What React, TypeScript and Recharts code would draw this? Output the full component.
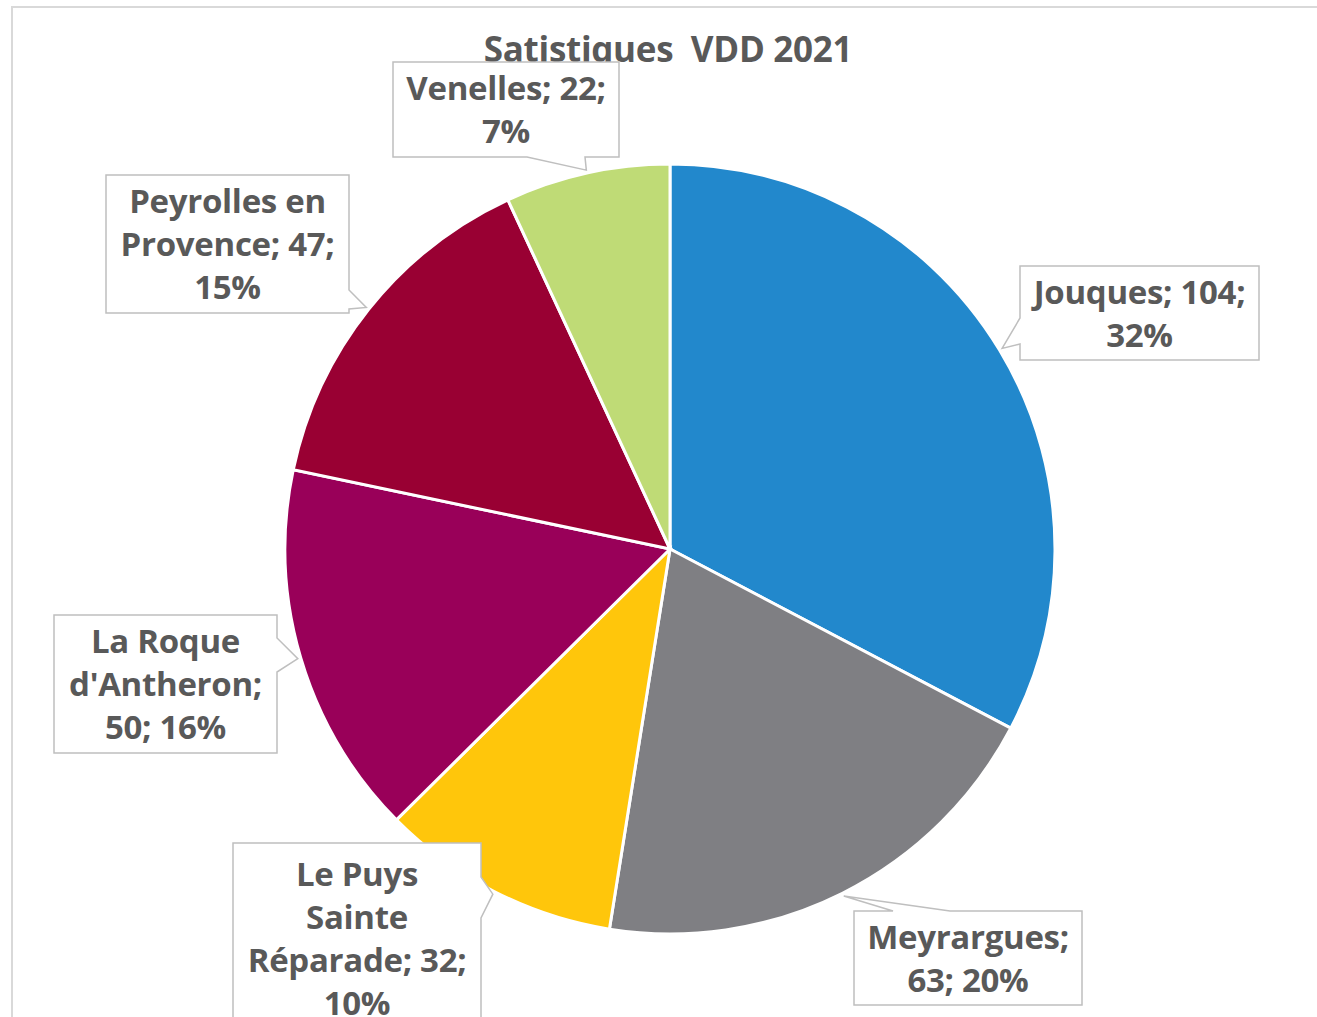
import React from 'react';
import { PieChart, Pie, Cell } from 'recharts';

const communes = ['Jouques', 'Meyrargues', 'Le Puys Sainte Réparade', "La Roque d'Antheron", 'Peyrolles en Provence', 'Venelles'];
const counts = [104, 63, 32, 50, 47, 22];
const percentLabels = ['32%', '20%', '10%', '16%', '15%', '7%'];
const labelLines = [
  ['Jouques; 104;', '32%'],
  ['Meyrargues;', '63; 20%'],
  ['Le Puys', 'Sainte', 'Réparade; 32;', '10%'],
  ['La Roque', "d'Antheron;", '50; 16%'],
  ['Peyrolles en', 'Provence; 47;', '15%'],
  ['Venelles; 22;', '7%'],
];
const colors = ['#2288CC', '#7F7F83', '#FFC60B', '#990059', '#990033', '#BFDB76'];
const title = 'Satistiques  VDD 2021';

// Callout box layout: x, y, w, h, side of pointer, base start/end along that side
const boxes = [
  { x: 1020, y: 266, w: 239, h: 94, side: 'left', a: 318, b: 344 },
  { x: 854, y: 911, w: 228, h: 94, side: 'top', a: 893, b: 950 },
  { x: 233, y: 843, w: 248, h: 190, side: 'right', a: 877, b: 918 },
  { x: 54, y: 615, w: 223, h: 138, side: 'right', a: 638, b: 672 },
  { x: 106, y: 175, w: 243, h: 138, side: 'right', a: 290, b: 309 },
  { x: 393, y: 62, w: 226, h: 95, side: 'bottom', a: 527, b: 585 },
];

const data = communes.map((name, i) => ({ name, value: counts[i], pct: percentLabels[i] }));

const RAD = Math.PI / 180;
const FONT = '"Open Sans", Lato, sans-serif';

function calloutPath(bx: any, tx: number, ty: number) {
  const { x, y, w, h, side, a, b } = bx;
  const r = x + w, btm = y + h;
  if (side === 'left') {
    return `M${x},${y} L${r},${y} L${r},${btm} L${x},${btm} L${x},${b} L${tx},${ty} L${x},${a} Z`;
  }
  if (side === 'right') {
    return `M${x},${y} L${r},${y} L${r},${a} L${tx},${ty} L${r},${b} L${r},${btm} L${x},${btm} Z`;
  }
  if (side === 'top') {
    return `M${x},${y} L${a},${y} L${tx},${ty} L${b},${y} L${r},${y} L${r},${btm} L${x},${btm} Z`;
  }
  return `M${x},${y} L${r},${y} L${r},${btm} L${b},${btm} L${tx},${ty} L${a},${btm} L${x},${btm} Z`;
}

const renderLabel = (props: any) => {
  const { cx, cy, midAngle, outerRadius, index } = props;
  const bx = boxes[index];
  const tr = outerRadius + 3;
  const tx = cx + tr * Math.cos(-midAngle * RAD);
  const ty = cy + tr * Math.sin(-midAngle * RAD);
  const lines = labelLines[index];
  const lh = 43;
  const firstBase = index === 2 ? bx.y + 43 : bx.y + bx.h / 2 - ((lines.length - 1) * lh) / 2 + 12;
  return (
    <g key={`lbl-${index}`}>
      <path d={calloutPath(bx, tx, ty)} fill="#FFFFFF" stroke="#BFBFBF" strokeWidth={1.5} />
      <text x={bx.x + bx.w / 2} textAnchor="middle" fill="#595959" fontFamily={FONT} fontWeight={700} fontSize={33} letterSpacing={-0.3}>
        {lines.map((ln, k) => (
          <tspan key={k} x={bx.x + bx.w / 2} y={firstBase + k * lh}>{ln}</tspan>
        ))}
      </text>
    </g>
  );
};

export default function App() {
  return (
    <div style={{ position: 'absolute', left: 0, top: 0, width: 1317, height: 1017, background: '#fff', overflow: 'hidden' }}>
      <PieChart width={1317} height={1017} style={{ position: 'absolute', left: 0, top: 0 }}>
        <rect x={12} y={7} width={1320} height={1030} fill="#fff" stroke="#D9D9D9" strokeWidth={2} />
        <text x={668} y={62} textAnchor="middle" fill="#595959" fontFamily={FONT} fontWeight={700} fontSize={35} letterSpacing={-0.3} style={{ whiteSpace: 'pre' }}>
          {title}
        </text>
        <Pie
          data={data}
          dataKey="value"
          nameKey="name"
          cx={665}
          cy={544}
          outerRadius={385}
          startAngle={90}
          endAngle={-270}
          stroke="#FFFFFF"
          strokeWidth={3}
          label={renderLabel}
          labelLine={false}
          isAnimationActive={false}
        >
          {data.map((d, i) => (
            <Cell key={d.name} fill={colors[i]} />
          ))}
        </Pie>
      </PieChart>
    </div>
  );
}
